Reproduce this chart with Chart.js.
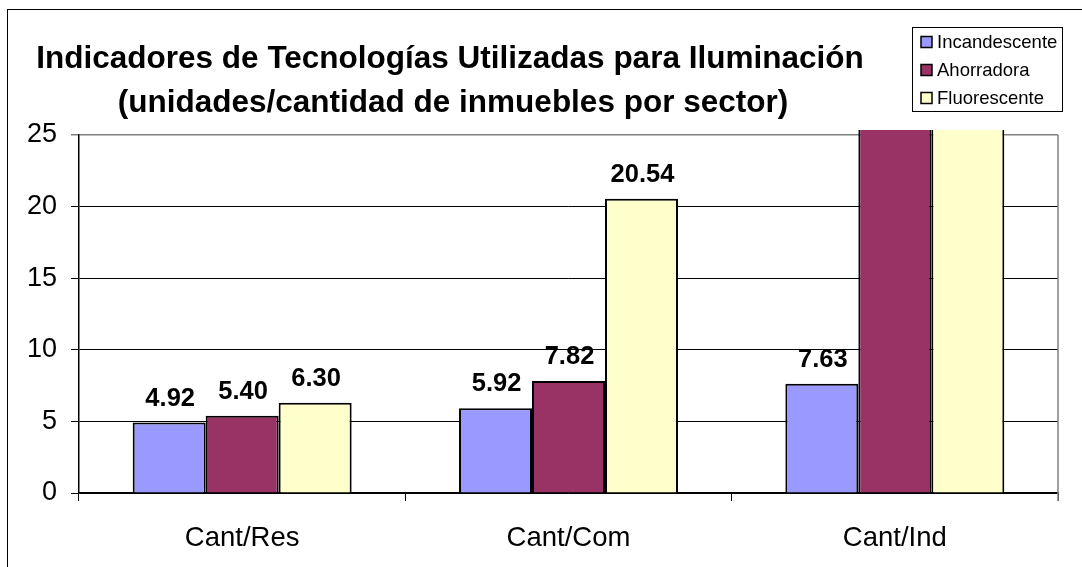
<!DOCTYPE html>
<html>
<head>
<meta charset="utf-8">
<script src="https://cdn.jsdelivr.net/npm/chart.js@4/dist/chart.umd.min.js"></script>
<style>
  html, body { margin: 0; padding: 0; background: #fff; }
  #wrap { width: 1082px; height: 567px; position: relative; }
</style>
</head>
<body>
<div id="wrap"><canvas id="c" width="1082" height="567"></canvas></div>
<script>
const categories = ["Cant/Res", "Cant/Com", "Cant/Ind"];
const seriesNames = ["Incandescente", "Ahorradora", "Fluorescente"];
const incandescente = [4.92, 5.92, 7.63];
const ahorradora = [5.40, 7.82, 31.5];
const fluorescente = [6.30, 20.54, 39.0];
const seriesColors = ["#9999FF", "#993366", "#FFFFCC"];
const titleLines = ["Indicadores de Tecnologías Utilizadas para Iluminación", "(unidades/cantidad de inmuebles por sector)"];
const yMin = 0, yMax = 25, yStep = 5;

const FONT = "'Liberation Sans', Arial, sans-serif";

const decorPlugin = {
  id: 'decor',
  afterDraw(chart) {
    const ctx = chart.ctx;
    const area = chart.chartArea;
    ctx.save();
    // outer border
    ctx.strokeStyle = '#000';
    ctx.lineWidth = 1;
    ctx.strokeRect(7.5, 9.5, 1200, 700);
    // right plot border (gray)
    ctx.strokeStyle = '#808080';
    ctx.lineWidth = 1.5;
    ctx.beginPath();
    ctx.moveTo(area.right, area.top);
    ctx.lineTo(area.right, area.bottom + 8);
    ctx.stroke();

    // title
    ctx.fillStyle = '#000';
    ctx.font = "bold 31.5px " + FONT;
    ctx.textAlign = 'center';
    ctx.textBaseline = 'alphabetic';
    ctx.fillText(titleLines[0], 450, 68);
    ctx.fillText(titleLines[1], 453, 112);

    // data labels
    ctx.font = "bold 25.5px " + FONT;
    chart.data.datasets.forEach((ds, i) => {
      const meta = chart.getDatasetMeta(i);
      meta.data.forEach((el, j) => {
        const v = ds.data[j];
        if (v <= yMax) {
          ctx.fillText(v.toFixed(2), el.x + 1, el.y - 17);
        }
      });
    });

    // legend
    const lx = 912.5, ly = 27.5, lw = 150, lh = 84;
    ctx.fillStyle = '#fff';
    ctx.fillRect(lx, ly, lw, lh);
    ctx.strokeStyle = '#000';
    ctx.lineWidth = 1;
    ctx.strokeRect(lx, ly, lw, lh);
    ctx.font = "18.5px " + FONT;
    ctx.textAlign = 'left';
    ctx.textBaseline = 'middle';
    const rows = [42, 70, 98];
    chart.data.datasets.forEach((ds, i) => {
      const cy = rows[i];
      ctx.fillStyle = ds.backgroundColor;
      ctx.fillRect(921, cy - 5.5, 11, 11);
      ctx.strokeStyle = '#000';
      ctx.lineWidth = 1.5;
      ctx.strokeRect(921, cy - 5.5, 11, 11);
      ctx.fillStyle = '#000';
      ctx.fillText(ds.label, 937, cy + 1);
    });
    ctx.restore();
  }
};

const seriesData = [incandescente, ahorradora, fluorescente];
new Chart(document.getElementById('c'), {
  type: 'bar',
  data: {
    labels: categories,
    datasets: seriesNames.map((name, i) => ({
      label: name,
      data: seriesData[i],
      backgroundColor: seriesColors[i],
      borderColor: '#000',
      borderWidth: 2,
      categoryPercentage: 0.671,
      barPercentage: 1.0,
      clip: { left: 0, top: 5, right: 0, bottom: 0 }
    }))
  },
  options: {
    responsive: false,
    devicePixelRatio: 1,
    animation: false,
    layout: { padding: { top: 135, right: 24, left: 0, bottom: 0 } },
    plugins: {
      legend: { display: false },
      title: { display: false },
      tooltip: { enabled: false }
    },
    scales: {
      x: {
        afterFit(scale) { scale.height = 74; },
        grid: { offset: true, drawOnChartArea: false, drawTicks: true, tickLength: 8, color: '#000', lineWidth: 1 },
        border: { color: '#000', width: 1.5 },
        ticks: { color: '#000', font: { family: FONT, size: 27.5 }, padding: 21 }
      },
      y: {
        min: yMin, max: yMax,
        afterFit(scale) { scale.width = 79; },
        grid: {
          color: (c) => (c.tick && c.tick.value === yMax) ? '#808080' : '#000',
          lineWidth: (c) => (c.tick && c.tick.value === yMax) ? 1.5 : 1,
          tickLength: 8
        },
        border: { color: '#000', width: 1.5 },
        ticks: { stepSize: yStep, color: '#000', font: { family: FONT, size: 27 }, padding: 14 }
      }
    }
  },
  plugins: [decorPlugin]
});
</script>
</body>
</html>
